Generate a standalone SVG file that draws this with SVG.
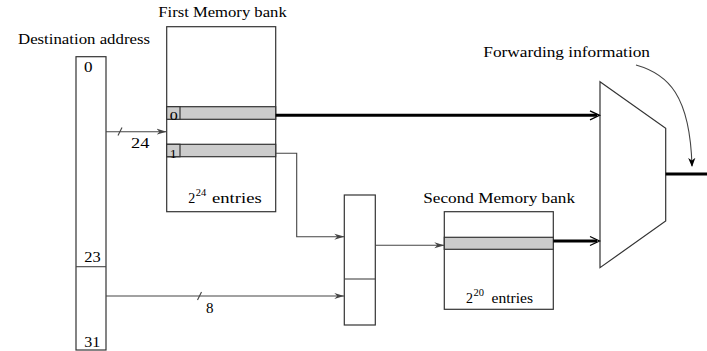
<svg xmlns="http://www.w3.org/2000/svg" width="707" height="351" viewBox="0 0 707 351">
<style>
text{font-family:"Liberation Serif","Times New Roman",serif;fill:#000}
.t{font-size:14px}
.box{fill:#fff;stroke:#333;stroke-width:1.2}
.row{fill:#cccccc;stroke:#333;stroke-width:1.2}
.thin{fill:none;stroke:#444;stroke-width:1.1}
.thick{fill:none;stroke:#000;stroke-width:3}
</style>
<defs>
<marker id="ah" viewBox="0 0 10 10" refX="10" refY="5" markerWidth="10" markerHeight="10" markerUnits="userSpaceOnUse" orient="auto">
<path d="M0,2 L10,5 L0,8 L3,5 Z" fill="#444"/>
</marker>
<marker id="ahc" viewBox="0 0 10 10" refX="9" refY="5" markerWidth="9" markerHeight="9" markerUnits="userSpaceOnUse" orient="auto">
<path d="M0,1 L10,5 L0,9 L3,5 Z" fill="#000"/>
</marker>
</defs>

<g id="dest-address">
<text class="t" x="18" y="43.5" textLength="132" lengthAdjust="spacingAndGlyphs">Destination address</text>
<rect class="box" x="76" y="56.7" width="30" height="293.3"/>
<line class="thin" x1="76" y1="266.7" x2="106" y2="266.7"/>
<text class="t" x="84" y="71.5" textLength="8.5" lengthAdjust="spacingAndGlyphs">0</text>
<text class="t" x="84.3" y="261.7" textLength="16.4" lengthAdjust="spacingAndGlyphs">23</text>
<text class="t" x="84.3" y="346.5" textLength="16" lengthAdjust="spacingAndGlyphs">31</text>
</g>

<g id="first-bank">
<text class="t" x="158.3" y="16.7" textLength="128.4" lengthAdjust="spacingAndGlyphs">First Memory bank</text>
<rect class="box" x="166.7" y="26.7" width="109" height="185"/>
<rect class="row" x="166.7" y="106.7" width="109" height="12.6"/>
<rect class="row" x="166.7" y="106.7" width="13.3" height="12.6"/>
<text x="169.8" y="120" style="font-size:12.5px" textLength="8" lengthAdjust="spacingAndGlyphs">0</text>
<rect class="row" x="166.7" y="144.3" width="109" height="12.4"/>
<rect class="row" x="166.7" y="144.3" width="13.3" height="12.4"/>
<text x="169.8" y="157.5" style="font-size:12.5px" textLength="7" lengthAdjust="spacingAndGlyphs">1</text>
<text class="t" x="188.3" y="203" textLength="7" lengthAdjust="spacingAndGlyphs">2</text>
<text x="195.8" y="195.5" style="font-size:10.5px" textLength="10.5" lengthAdjust="spacingAndGlyphs">24</text>
<text class="t" x="212" y="203" textLength="49.7" lengthAdjust="spacingAndGlyphs">entries</text>
</g>

<g id="concat-box">
<rect class="box" x="344.3" y="195" width="31" height="130"/>
<line class="thin" x1="344.3" y1="279" x2="375.3" y2="279"/>
</g>

<g id="second-bank">
<text class="t" x="423.3" y="203.3" textLength="151.7" lengthAdjust="spacingAndGlyphs">Second Memory bank</text>
<rect class="box" x="444.3" y="211.7" width="109" height="97.6"/>
<rect class="row" x="444.3" y="237.3" width="109" height="12"/>
<text class="t" x="466" y="303.3" textLength="7" lengthAdjust="spacingAndGlyphs">2</text>
<text x="473.5" y="295.8" style="font-size:10.5px" textLength="10.5" lengthAdjust="spacingAndGlyphs">20</text>
<text class="t" x="491.5" y="303.3" textLength="41.5" lengthAdjust="spacingAndGlyphs">entries</text>
</g>

<g id="selector">
<polygon class="box" points="600,81.7 665.7,128.3 665.7,221 600,267.7"/>
<text class="t" x="483.3" y="56.7" textLength="166.7" lengthAdjust="spacingAndGlyphs">Forwarding information</text>
</g>

<g id="connectors">
<line class="thin" x1="106" y1="131.7" x2="166.5" y2="131.7" marker-end="url(#ah)"/>
<line class="thin" x1="118" y1="135.5" x2="122" y2="127.5"/>
<text class="t" x="131" y="148" textLength="18.3" lengthAdjust="spacingAndGlyphs">24</text>
<line class="thin" x1="106" y1="296" x2="344.3" y2="296" marker-end="url(#ah)"/>
<line class="thin" x1="197.5" y1="300" x2="201.5" y2="292"/>
<text class="t" x="206" y="313" textLength="7.5" lengthAdjust="spacingAndGlyphs">8</text>
<polyline class="thin" points="275.7,153.3 296.7,153.3 296.7,236.7 344.3,236.7" marker-end="url(#ah)"/>
<line class="thin" x1="375.3" y1="245.3" x2="444.3" y2="245.3" marker-end="url(#ah)"/>
<line class="thick" x1="275.7" y1="115.3" x2="597" y2="115.3"/>
<path d="M590,110.8 L599.5,115.3 L590,119.8" fill="none" stroke="#000" stroke-width="1.3"/>
<line class="thick" x1="553.3" y1="241" x2="597" y2="241"/>
<path d="M590,236.5 L599.5,241 L590,245.5" fill="none" stroke="#000" stroke-width="1.3"/>
<line class="thick" x1="665.7" y1="174" x2="707" y2="174"/>
<path class="thin" d="M636,65 C668,74 690,95 692,166" stroke="#000" marker-end="url(#ahc)"/>
</g>
</svg>
